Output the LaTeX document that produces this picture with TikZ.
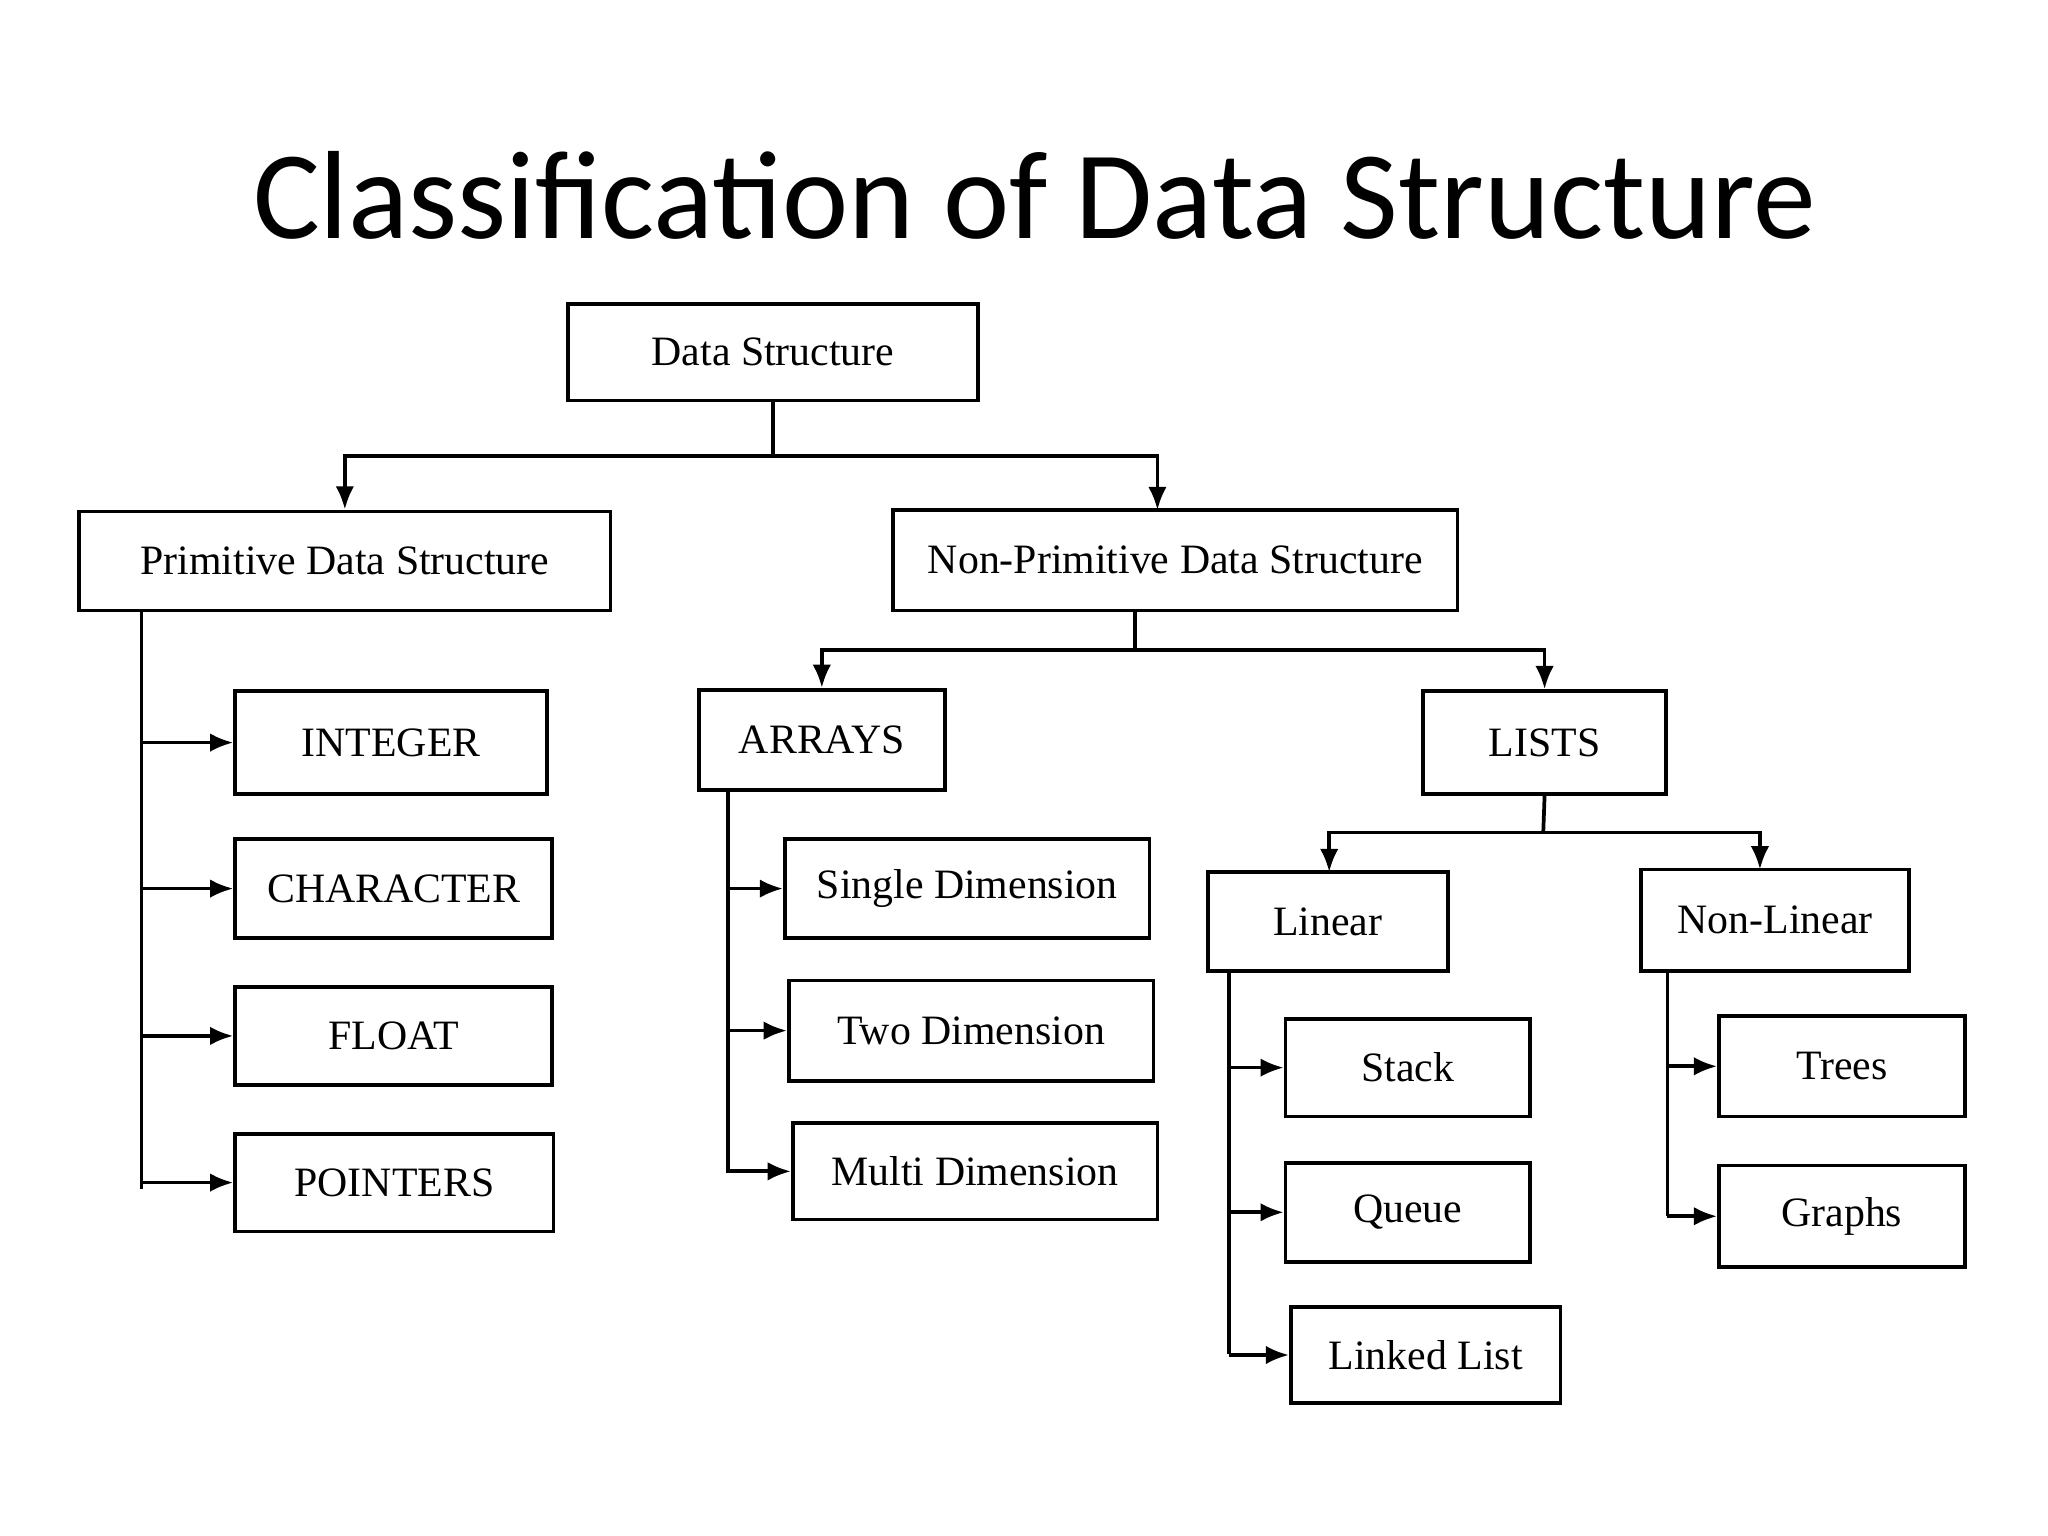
\documentclass[tikz,border=0pt]{standalone}
\usepackage{fontspec}
\setmainfont{Liberation Serif}
\newfontfamily\titlefont{Carlito}
\usetikzlibrary{arrows.meta}
\begin{document}
\begin{tikzpicture}[x=0.01cm,y=-0.01cm,
  box/.style={draw,thick,inner sep=0pt,font=\fontsize{9}{11}\selectfont},
  arr/.style={thick,-{Latex[length=5pt,width=4pt]}},
  ln/.style={thick}]
\useasboundingbox[fill=white] (0,0) rectangle (1550,1162);
\node[font=\titlefont\fontsize{27}{32}\selectfont] (title) at (783,148) {Classification of Data Structure};
\newcommand{\bx}[6]{\node[box,minimum width={(#4-#2)*0.01cm},minimum height={(#5-#3)*0.01cm}] (#1) at ({(#2+#4)/2},{(#3+#5)/2}) {#6};}
\bx{ds}{430}{230}{740}{303}{Data Structure}
\bx{pds}{60}{387}{462}{462}{Primitive Data Structure}
\bx{npds}{676}{386}{1103}{462}{Non-Primitive Data Structure}
\bx{int}{178}{523}{414}{601}{INTEGER}
\bx{chr}{178}{635}{418}{710}{CHARACTER}
\bx{flt}{178}{747}{418}{821}{FLOAT}
\bx{ptr}{178}{858}{419}{932}{POINTERS}
\bx{arr}{529}{522}{715}{598}{ARRAYS}
\bx{lst}{1077}{523}{1261}{601}{LISTS}
\bx{sgl}{594}{635}{870}{710}{Single Dimension}
\bx{two}{597}{742}{873}{818}{Two Dimension}
\bx{mul}{600}{850}{876}{923}{Multi Dimension}
\bx{lin}{914}{660}{1096}{735}{Linear}
\bx{nln}{1242}{658}{1445}{735}{Non-Linear}
\bx{stk}{973}{771}{1158}{845}{Stack}
\bx{que}{973}{880}{1158}{955}{Queue}
\bx{lnk}{977}{989}{1181}{1062}{Linked List}
\bx{tre}{1301}{769}{1487}{845}{Trees}
\bx{gra}{1301}{882}{1487}{959}{Graphs}
% Data Structure
\coordinate (j1) at (585,345);
\draw[ln] (ds.south) -- (j1);
\draw[arr] (j1) -| (pds.north);
\draw[arr] (j1) -| (876,386);
% Primitive
\draw[ln] (107,462) -- (107,900);
\foreach \n in {int,chr,flt,ptr} \draw[arr] (107,0 |- \n.west) -- (\n.west);
% Non-primitive
\coordinate (j2) at (859,492);
\draw[ln] (859,462) -- (j2);
\draw[arr] (j2) -| (arr.north);
\draw[arr] (j2) -| (lst.north);
% Arrays
\draw[ln] (551,598) -- (551,888);
\foreach \n in {sgl,two,mul} \draw[arr] (551,0 |- \n.west) -- (\n.west);
% Lists
\coordinate (j3) at (1168,630);
\draw[ln] (lst.south) -- (j3);
\draw[arr] (j3) -| (1006,660);
\draw[arr] (j3) -| (1332,658);
% Linear
\draw[ln] (930,735) -- (930,1025);
\foreach \n in {stk,que,lnk} \draw[arr] (930,0 |- \n.west) -- (\n.west);
% Non-linear
\draw[ln] (1262,735) -- (1262,920);
\foreach \n in {tre,gra} \draw[arr] (1262,0 |- \n.west) -- (\n.west);
\end{tikzpicture}
\end{document}
